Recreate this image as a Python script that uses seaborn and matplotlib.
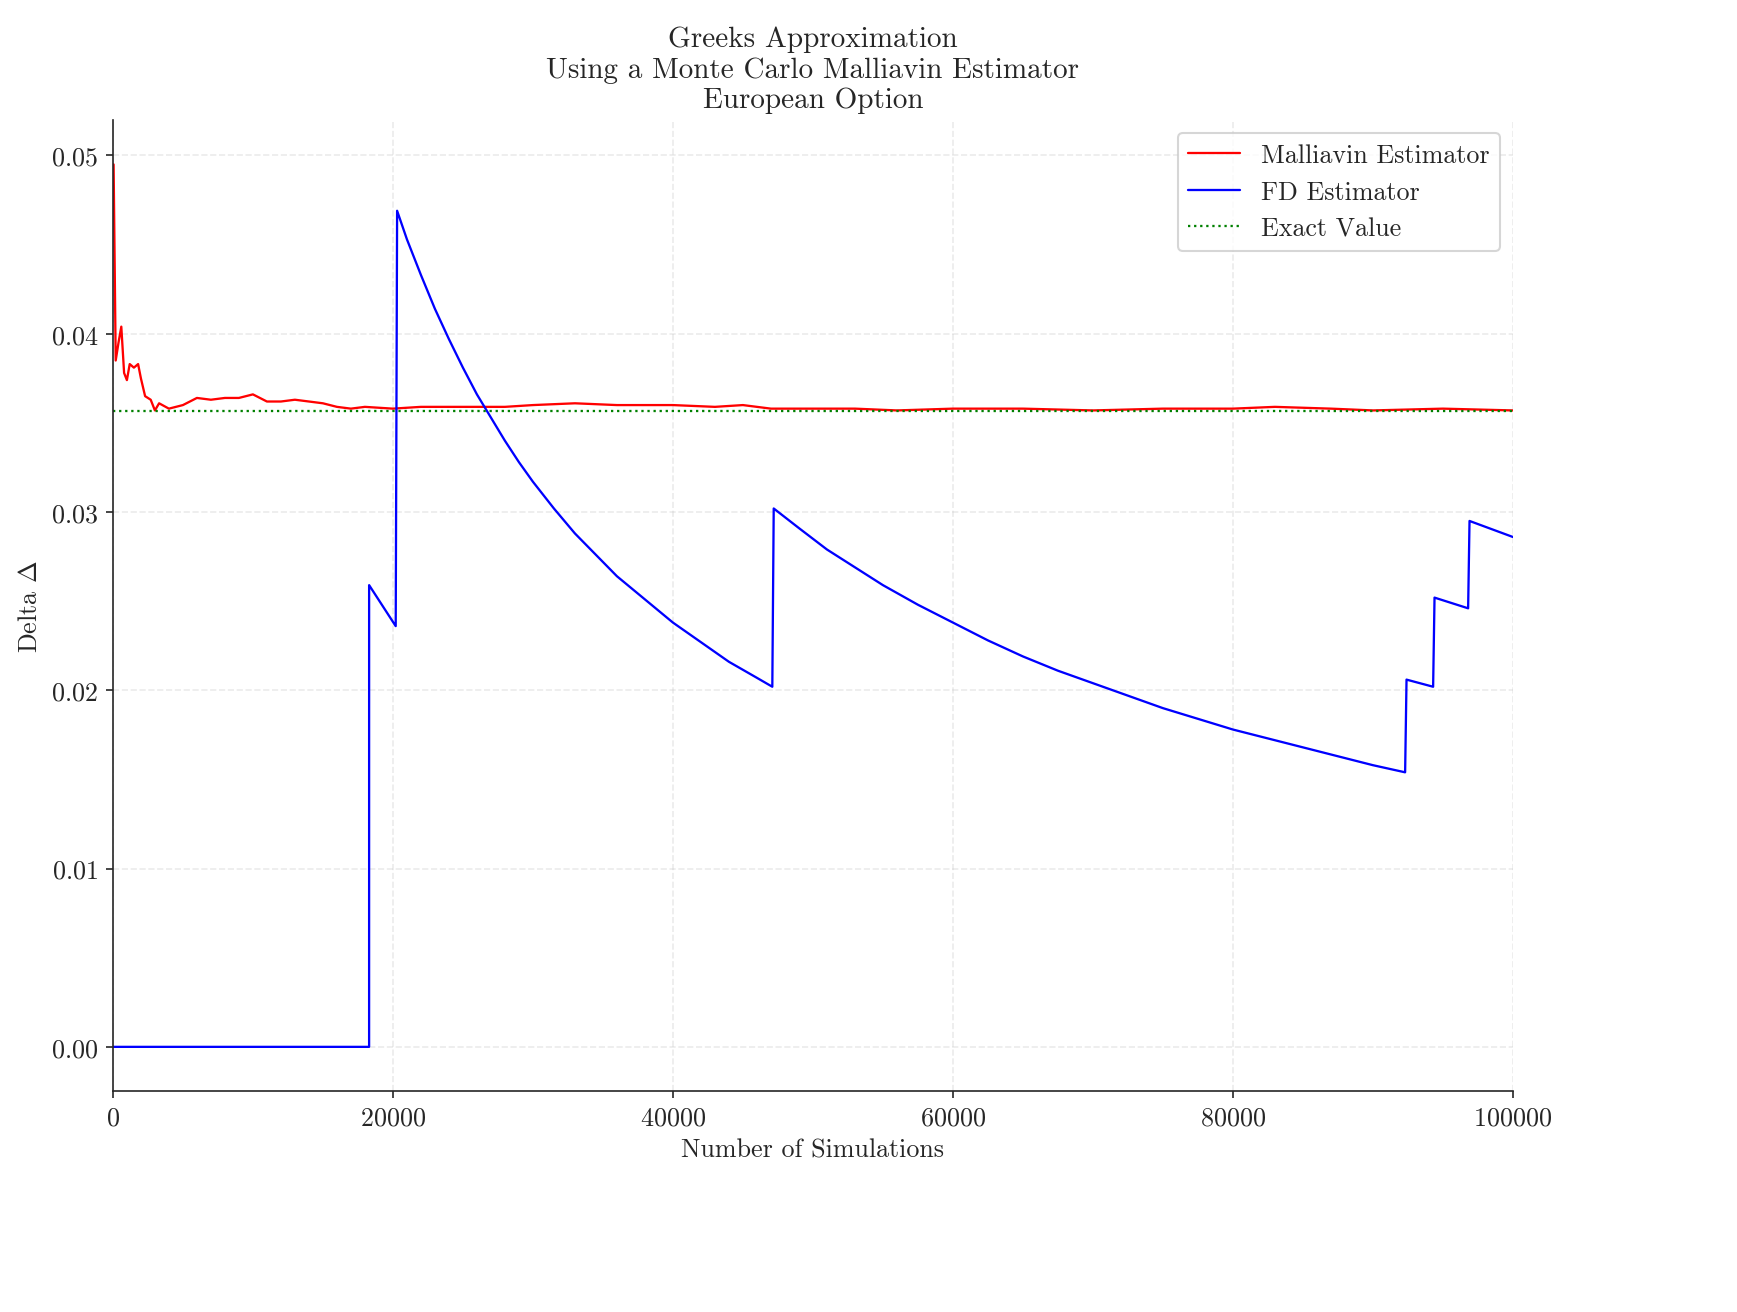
import matplotlib
matplotlib.use("Agg")
import matplotlib.pyplot as plt
import seaborn as sns

sns.set_style("ticks")
plt.rcParams['font.family'] = ['serif']
plt.rcParams['font.serif'] = ['cmr10', 'DejaVu Serif']
plt.rcParams['mathtext.fontset'] = 'cm'
plt.rcParams['axes.formatter.use_mathtext'] = True
plt.rcParams['font.size'] = 12.5

mal_n = [50, 200, 400, 600, 800, 1000, 1200, 1500, 1800, 2000, 2300, 2700, 3000, 3300, 4000, 5000, 6000, 7000,
         8000, 9000, 10000, 11000, 12000, 13000, 14000, 15000, 16000, 17000, 18000, 20000, 22000, 25000, 28000,
         30000, 33000, 36000, 40000, 43000, 45000, 47000, 50000, 53000, 56000, 60000, 65000, 70000, 75000,
         80000, 83000, 87000, 90000, 95000, 100000]
mal_v = [0.0495, 0.0385, 0.0395, 0.0404, 0.0378, 0.0374, 0.0383, 0.0381, 0.0383, 0.0375, 0.0365, 0.0363, 0.0357,
         0.0361, 0.0358, 0.0360, 0.0364, 0.0363, 0.0364, 0.0364, 0.0366, 0.0362, 0.0362, 0.0363, 0.0362, 0.0361,
         0.0359, 0.0358, 0.0359, 0.0358, 0.0359, 0.0359, 0.0359, 0.0360, 0.0361, 0.0360, 0.0360, 0.0359, 0.0360,
         0.0358, 0.0358, 0.0358, 0.0357, 0.0358, 0.0358, 0.0357, 0.0358, 0.0358, 0.0359, 0.0358, 0.0357, 0.0358,
         0.0357]
fd_n = [0, 18300, 18301, 20200, 20300, 21000, 22000, 23000, 24000, 25000, 26000, 27000, 28000, 29000, 30000,
        31500, 33000, 34500, 36000, 38000, 40000, 42000, 44000, 46000, 47100,
        47200, 49000, 51000, 53000, 55000, 57500, 60000, 62500, 65000, 67500, 70000, 72500, 75000, 77500,
        80000, 82500, 85000, 87500, 90000, 92300, 92400, 94300, 94400, 96800, 96900, 100000]
fd_v = [0.0, 0.0, 0.0259, 0.0236, 0.0469, 0.0453, 0.0433, 0.0414, 0.0397, 0.0381, 0.0366, 0.0353, 0.0340,
        0.0328, 0.0317, 0.0302, 0.0288, 0.0276, 0.0264, 0.0251, 0.0238, 0.0227, 0.0216, 0.0207, 0.0202,
        0.0302, 0.0291, 0.0279, 0.0269, 0.0259, 0.0248, 0.0238, 0.0228, 0.0219, 0.0211, 0.0204, 0.0197,
        0.0190, 0.0184, 0.0178, 0.0173, 0.0168, 0.0163, 0.0158, 0.0154, 0.0206, 0.0202, 0.0252, 0.0246,
        0.0295, 0.0286]
exact_value = 0.03567

fig, ax = plt.subplots(figsize=(11.58, 8.753), dpi=150)
sns.lineplot(x=mal_n, y=mal_v, ax=ax, color='red', lw=1.1, label='Malliavin Estimator')
sns.lineplot(x=fd_n, y=fd_v, ax=ax, color='blue', lw=1.1, label='FD Estimator')
ax.axhline(exact_value, color='green', ls=':', lw=1.1, label='Exact Value')
ax.set_xlim(0, 100000)
ax.set_ylim(-0.0025, 0.052)
ax.grid(True, ls='--', alpha=0.4)
sns.despine(ax=ax)
ax.set_xlabel('Number of Simulations')
ax.set_ylabel(r'Delta $\Delta$')
ax.set_title('Greeks Approximation\nUsing a Monte Carlo Malliavin Estimator\nEuropean Option', fontsize=14)
ax.legend(loc='upper right')
fig.subplots_adjust(left=0.065, right=0.871, top=0.908, bottom=0.168)
fig.savefig('out.png', dpi=150)
